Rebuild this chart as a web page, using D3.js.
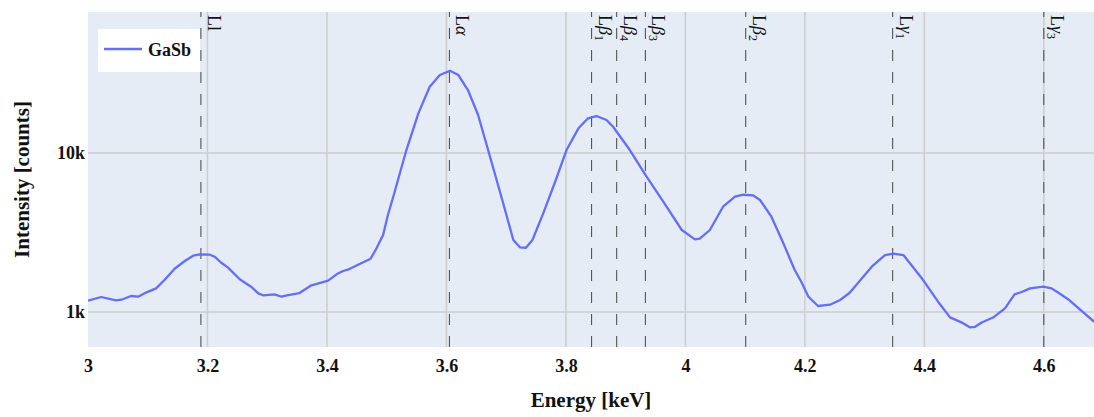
<!DOCTYPE html>
<html>
<head>
<meta charset="utf-8">
<script src="https://cdn.jsdelivr.net/npm/d3@7"></script>
<style>
  body { margin: 0; background: #fff; }
  svg text { font-family: "Liberation Serif", "DejaVu Serif", serif; }
</style>
</head>
<body>
<svg id="chart" width="1094" height="417"></svg>
<script>
// spectrum
const energy = [3.000,3.022,3.047,3.056,3.072,3.084,3.098,3.114,3.128,3.145,
    3.162,3.176,3.187,3.204,3.212,3.223,3.234,3.254,3.273,3.285,
    3.293,3.312,3.324,3.335,3.354,3.374,3.402,3.416,3.427,3.435,
    3.452,3.473,3.483,3.494,3.502,3.511,3.533,3.553,3.572,3.589,
    3.606,3.620,3.636,3.653,3.673,3.695,3.712,3.723,3.733,3.744,
    3.762,3.782,3.801,3.821,3.837,3.851,3.868,3.879,3.907,3.935,
    3.963,3.994,4.016,4.024,4.041,4.063,4.083,4.097,4.113,4.125,
    4.144,4.164,4.183,4.194,4.206,4.222,4.242,4.259,4.275,4.312,
    4.334,4.348,4.365,4.398,4.423,4.443,4.462,4.476,4.485,4.496,
    4.515,4.535,4.551,4.563,4.577,4.599,4.613,4.627,4.643,4.655,
    4.683,4.690];
const counts = [1178,1243,1185,1195,1261,1248,1330,1409,1589,1872,
    2093,2261,2307,2294,2228,2042,1910,1606,1443,1311,
    1274,1292,1248,1279,1317,1472,1574,1726,1811,1845,
    1984,2164,2515,3050,4074,5311,10444,17770,26120,30950,
    32930,30950,24900,17340,9478,4828,2837,2552,2537,2837,
    4177,6600,10444,14300,16530,17090,16130,14640,10444,7096,
    4941,3280,2866,2891,3280,4596,5311,5466,5420,5064,
    3976,2704,1837,1551,1248,1091,1112,1190,1322,1927,
    2283,2326,2283,1589,1161,926,861,801,807,859,
    923,1055,1292,1336,1409,1443,1409,1302,1185,1080,
    878,840];

// Sb L lines: energy, greek letter, subscript
const lineEnergies = [3.189, 3.605, 3.843, 3.885, 3.933, 4.101, 4.347, 4.600];
const lineGreek = ["l", "α", "β", "β", "β", "β", "γ", "γ"];
const lineSub = ["", "", "1", "4", "3", "2", "1", "3"];

const xTicks = [3, 3.2, 3.4, 3.6, 3.8, 4, 4.2, 4.4, 4.6];
const yTicks = [1000, 10000];
const seriesName = "GaSb";

const margin = { top: 12, right: 0, bottom: 70, left: 88 },
    width = 1094 - margin.left - margin.right,
    height = 417 - margin.top - margin.bottom;

const svg = d3.select("#chart");
const g = svg.append("g")
    .attr("transform", "translate(" + margin.left + "," + margin.top + ")");

const xScale = d3.scaleLinear().domain([3, 4.684]).range([0, width]);
const yScale = d3.scaleLog().domain([Math.pow(10, 2.78), Math.pow(10, 4.887)]).range([height, 0]);

// background
g.append("rect")
    .attr("width", width)
    .attr("height", height)
    .attr("fill", "#E5ECF6");

// grid
g.append("g").selectAll("line")
    .data(xTicks.slice(1))
    .join("line")
    .attr("x1", d => xScale(d)).attr("x2", d => xScale(d))
    .attr("y1", 0).attr("y2", height)
    .attr("stroke", "#cdcdcd")
    .attr("stroke-width", 1.5);

g.append("g").selectAll("line")
    .data(yTicks)
    .join("line")
    .attr("x1", 0).attr("x2", width)
    .attr("y1", d => yScale(d)).attr("y2", d => yScale(d))
    .attr("stroke", "#cdcdcd")
    .attr("stroke-width", 1.5);

// axes (labels only)
const xAxis = g.append("g")
    .attr("transform", "translate(0," + height + ")")
    .call(d3.axisBottom(xScale).tickValues(xTicks).tickSize(0).tickFormat(d3.format("")))
    .attr("font-family", null)
    .attr("font-size", null);
xAxis.select(".domain").remove();
xAxis.selectAll(".tick text")
    .attr("y", 12)
    .attr("dy", "0.71em")
    .attr("fill", "#111")
    .style("font-size", "18px")
    .style("font-weight", "bold");

const yAxis = g.append("g")
    .call(d3.axisLeft(yScale).tickValues(yTicks).tickSize(0).tickFormat(d => d3.format("~s")(d)))
    .attr("font-family", null)
    .attr("font-size", null);
yAxis.select(".domain").remove();
yAxis.selectAll(".tick text")
    .attr("x", -3)
    .attr("fill", "#111")
    .style("font-size", "18px")
    .style("font-weight", "bold");

// dashed emission lines
g.append("g").selectAll("line")
    .data(lineEnergies)
    .join("line")
    .attr("x1", d => xScale(d)).attr("x2", d => xScale(d))
    .attr("y1", height).attr("y2", 0)
    .attr("stroke", "#444")
    .attr("stroke-width", 1)
    .attr("stroke-dasharray", "11,11");

// spectrum line
g.append("clipPath").attr("id", "clip")
    .append("rect").attr("width", width).attr("height", height);

const line = d3.line()
    .x((d, i) => xScale(energy[i]))
    .y(d => yScale(d));

g.append("path")
    .datum(counts)
    .attr("clip-path", "url(#clip)")
    .attr("d", line)
    .attr("fill", "none")
    .attr("stroke", "#636EFA")
    .attr("stroke-width", 2.3)
    .attr("stroke-linejoin", "round");

// line labels, rotated
lineEnergies.forEach((e, i) => {
    const t = g.append("text")
        .attr("transform", "translate(" + (xScale(e) + 7) + ",3) rotate(90)")
        .attr("fill", "#111")
        .style("font-size", "18px");
    t.append("tspan").text("L");
    if (lineGreek[i] === "l") {
        t.append("tspan").text("l");
    } else {
        t.append("tspan").style("font-style", "italic").text(lineGreek[i]);
    }
    if (lineSub[i]) {
        t.append("tspan")
            .attr("dy", "0.3em")
            .style("font-size", "12px")
            .text(lineSub[i]);
    }
});

// legend
const legend = g.append("g").attr("transform", "translate(10,17)");
legend.append("rect")
    .attr("width", 102)
    .attr("height", 43)
    .attr("fill", "#fff");
legend.append("line")
    .attr("x1", 6).attr("x2", 44)
    .attr("y1", 20).attr("y2", 20)
    .attr("stroke", "#636EFA")
    .attr("stroke-width", 2.3);
legend.append("text")
    .attr("x", 50)
    .attr("y", 27)
    .attr("fill", "#111")
    .style("font-size", "18px")
    .style("font-weight", "bold")
    .text(seriesName);

// axis titles
svg.append("text")
    .attr("x", margin.left + width / 2)
    .attr("y", 407)
    .attr("text-anchor", "middle")
    .attr("fill", "#111")
    .style("font-size", "21px")
    .style("font-weight", "bold")
    .text("Energy [keV]");

svg.append("text")
    .attr("transform", "translate(29," + (margin.top + height / 2) + ") rotate(-90)")
    .attr("text-anchor", "middle")
    .attr("fill", "#111")
    .style("font-size", "21px")
    .style("font-weight", "bold")
    .text("Intensity [counts]");
</script>
</body>
</html>
